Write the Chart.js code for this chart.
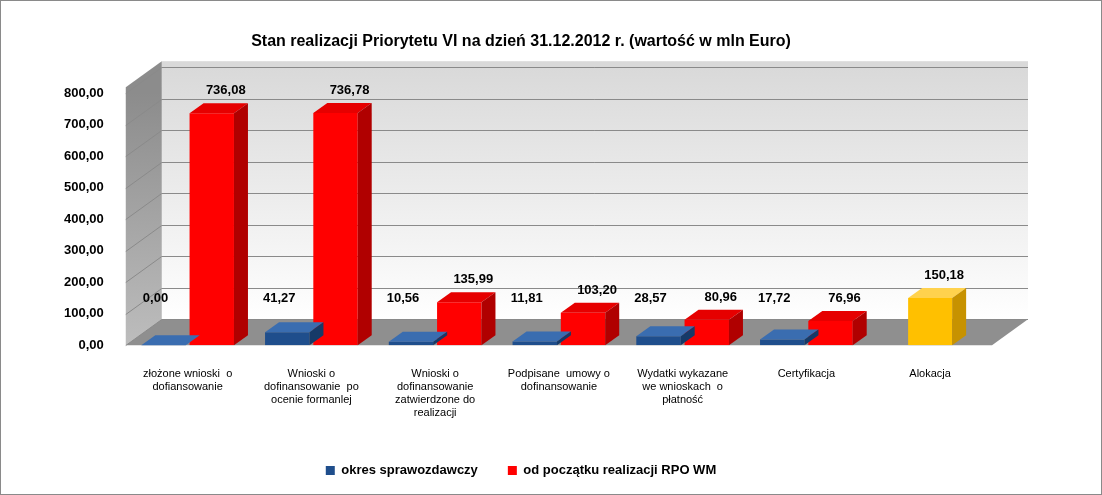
<!DOCTYPE html>
<html><head><meta charset="utf-8">
<script src="https://cdn.jsdelivr.net/npm/chart.js@4"></script>
<style>html,body{margin:0;padding:0;background:#fff}#w{width:1102px;height:495px}</style>
</head><body><div id="w"><canvas id="c"></canvas></div>
<script>
const categories = [
  ["złożone wnioski  o","dofiansowanie"],
  ["Wnioski o","dofinansowanie  po","ocenie formanlej"],
  ["Wnioski o","dofinansowanie","zatwierdzone do","realizacji"],
  ["Podpisane  umowy o","dofinansowanie"],
  ["Wydatki wykazane","we wnioskach  o","płatność"],
  ["Certyfikacja"],
  ["Alokacja"]
];
const okres = [0.00, 41.27, 10.56, 11.81, 28.57, 17.72, null];
const odPoczatku = [736.08, 736.78, 135.99, 103.20, 80.96, 76.96, null];
const alokacja = [null, null, null, null, null, null, 150.18];
const yTicks = [0,100,200,300,400,500,600,700,800];

const fmt = v => v.toFixed(2).replace('.', ',');
const DX = 36, DY = -26, BX = 14, BY = -10;
const shades = {
  '#1f4e8c': ['#3a6db0', '#163a68'],
  '#ff0000': ['#e60000', '#b00000'],
  '#ffc000': ['#ffd24d', '#c79200']
};
const threeD = {
  id: 'threeD',
  beforeDatasetsDraw(chart) {
    const ctx = chart.ctx, ca = chart.chartArea, ys = chart.scales.y;
    ctx.save();
    let g = ctx.createLinearGradient(0, ca.top + DY, 0, ca.bottom + DY);
    g.addColorStop(0, '#d9d9d9'); g.addColorStop(1, '#ffffff');
    ctx.fillStyle = g;
    ctx.fillRect(ca.left + DX, ca.top + DY - 6, ca.right - ca.left, ca.bottom - ca.top + 6);
    g = ctx.createLinearGradient(0, ca.top, 0, ca.bottom);
    g.addColorStop(0, '#8c8c8c'); g.addColorStop(1, '#bdbdbd');
    ctx.fillStyle = g;
    ctx.beginPath(); ctx.moveTo(ca.left, ca.top - 6); ctx.lineTo(ca.left + DX, ca.top + DY - 6);
    ctx.lineTo(ca.left + DX, ca.bottom + DY); ctx.lineTo(ca.left, ca.bottom); ctx.closePath(); ctx.fill();
    ctx.fillStyle = '#8f8f8f';
    ctx.beginPath(); ctx.moveTo(ca.left, ca.bottom); ctx.lineTo(ca.right, ca.bottom);
    ctx.lineTo(ca.right + DX, ca.bottom + DY); ctx.lineTo(ca.left + DX, ca.bottom + DY); ctx.closePath(); ctx.fill();
    ctx.strokeStyle = '#8a8a8a'; ctx.lineWidth = 1;
    yTicks.forEach(v => {
      const y = Math.round(ys.getPixelForValue(v)) + 0.5;
      ctx.beginPath(); ctx.moveTo(ca.left, y); ctx.lineTo(ca.left + DX, y + DY);
      ctx.lineTo(ca.right + DX, y + DY); ctx.stroke();
    });
    ctx.restore();
  },
  afterDatasetsDraw(chart) {
    const ctx = chart.ctx;
    ctx.save();
    chart.data.datasets.forEach((ds, di) => {
      const meta = chart.getDatasetMeta(di);
      const [top, side] = shades[ds.backgroundColor];
      meta.data.forEach((b, i) => {
        const v = ds.data[i];
        if (v === null) return;
        const l = b.x - b.width / 2, r = b.x + b.width / 2, t = b.y, bo = b.base;
        ctx.fillStyle = top;
        ctx.beginPath(); ctx.moveTo(l, t); ctx.lineTo(l + BX, t + BY); ctx.lineTo(r + BX, t + BY); ctx.lineTo(r, t); ctx.closePath(); ctx.fill();
        ctx.fillStyle = side;
        ctx.beginPath(); ctx.moveTo(r, t); ctx.lineTo(r + BX, t + BY); ctx.lineTo(r + BX, bo + BY); ctx.lineTo(r, bo); ctx.closePath(); ctx.fill();
        ctx.fillStyle = '#000'; ctx.font = 'bold 13px "Liberation Sans", Arial';
        ctx.textAlign = 'center'; ctx.textBaseline = 'bottom';
        const lx = di === 0 ? b.x - 8 : b.x + 14;
        const ly = di === 0 ? Math.min(t - 20, bo - 40) : t - 16;
        ctx.fillText(fmt(v), lx, ly);
      });
    });
    ctx.restore();
  },
  afterDraw(chart) {
    const ctx = chart.ctx;
    ctx.save(); ctx.strokeStyle = '#8a8a8a'; ctx.lineWidth = 1;
    ctx.strokeRect(0.5, 0.5, chart.width - 1, chart.height - 1); ctx.restore();
  }
};

new Chart(document.getElementById('c'), {
  type: 'bar',
  data: {
    labels: categories,
    datasets: [
      { label: 'okres sprawozdawczy', data: okres, backgroundColor: '#1f4e8c', skipNull: true },
      { label: 'od początku realizacji RPO WM', data: odPoczatku, backgroundColor: '#ff0000', skipNull: true },
      { label: 'Alokacja', data: alokacja, backgroundColor: '#ffc000', skipNull: true, maxBarThickness: 44 }
    ]
  },
  options: {
    responsive: true, maintainAspectRatio: false, animation: false,
    devicePixelRatio: 1,
    layout: { padding: { left: 50, right: 110, top: 32, bottom: 8 } },
    datasets: { bar: { categoryPercentage: 0.78, barPercentage: 0.92 } },
    plugins: {
      title: { display: true, text: 'Stan realizacji Priorytetu VI na dzień 31.12.2012 r. (wartość w mln Euro)',
        color: '#000', font: { family: '"Liberation Sans", Arial', size: 16, weight: 'bold' }, padding: { top: 0, bottom: 42 } },
      legend: { position: 'bottom',
        labels: { filter: it => it.datasetIndex < 2, color: '#000', boxWidth: 9, boxHeight: 9, padding: 30,
          font: { family: '"Liberation Sans", Arial', size: 13, weight: 'bold' } } },
      tooltip: { enabled: false }
    },
    scales: {
      x: { grid: { display: false }, border: { display: false },
        ticks: { color: '#000', maxRotation: 0, autoSkip: false, padding: 14,
          font: { family: '"Liberation Sans", Arial', size: 11 } } },
      y: { min: 0, max: 800, grid: { display: false }, border: { display: false },
        afterBuildTicks: s => { s.ticks = yTicks.map(v => ({ value: v })); },
        ticks: { color: '#000', padding: 14, callback: v => fmt(v),
          font: { family: '"Liberation Sans", Arial', size: 13, weight: 'bold' } } }
    }
  },
  plugins: [threeD]
});
</script></body></html>
